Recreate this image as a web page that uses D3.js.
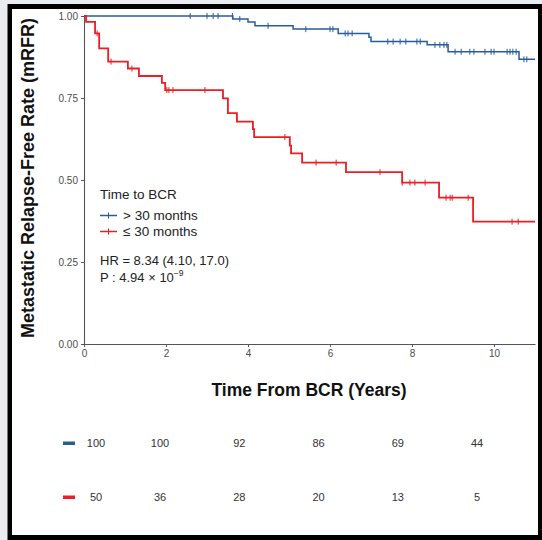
<!DOCTYPE html>
<html>
<head>
<meta charset="utf-8">
<script src="https://cdn.jsdelivr.net/npm/d3@7"></script>
<style>
  body { margin: 0; background: #e9edf1; }
  text { font-family: "Liberation Sans", Arial, sans-serif; }
</style>
</head>
<body>
<script>
// Kaplan-Meier step data (years, survival after the drop)
var blueTimes = [0, 3.63, 4.00, 4.17, 5.10, 6.20, 6.95, 7.00, 8.37, 8.88, 10.61];
var blueSurv = [1.00, 0.991, 0.982, 0.970, 0.960, 0.947, 0.935, 0.922, 0.912, 0.891, 0.868];
var blueCensor = [2.59, 3.00, 3.15, 3.27, 3.62, 3.80, 4.49, 5.41, 6.00, 6.07, 6.37, 6.44, 6.54,
    7.41, 7.54, 7.71, 7.85, 8.12, 8.20, 8.56, 8.68, 8.78, 8.85, 9.05, 9.20, 9.41, 9.51,
    9.78, 9.93, 10.00, 10.32, 10.39, 10.46, 10.54, 10.73, 10.80];

var redTimes = [0, 0.05, 0.27, 0.37, 0.59, 1.07, 1.34, 1.90, 1.98, 3.39, 3.51, 3.73, 4.12, 4.15,
    5.02, 5.05, 5.32, 6.39, 7.76, 8.66, 9.49];
var redSurv = [1.00, 0.982, 0.947, 0.901, 0.861, 0.840, 0.817, 0.796, 0.774, 0.749, 0.704, 0.678,
    0.655, 0.631, 0.605, 0.581, 0.553, 0.524, 0.492, 0.446, 0.373];
var redCensor = [0.32, 0.66, 1.17, 2.02, 2.07, 2.17, 2.95, 4.90, 5.66, 6.15, 7.22, 7.76, 7.95,
    8.07, 8.32, 8.83, 8.93, 8.98, 9.37, 10.44, 10.59];

var xTicks = [0, 2, 4, 6, 8, 10];
var yTicks = [0, 0.25, 0.5, 0.75, 1];

var riskTimes = [0, 2, 4, 6, 8, 10];
var riskBlue = [100, 100, 92, 86, 69, 44];
var riskRed = [50, 36, 28, 20, 13, 5];

var blueColor = "#2b5c9a";
var redColor = "#ee1c24";
var w = 542, h = 540;

var svg = d3.select("body").append("svg")
    .attr("width", w)
    .attr("height", h)
    .style("display", "block");

// frame
svg.append("rect").attr("x", 7.5).attr("y", 4).attr("width", w - 7.5).attr("height", h - 4).attr("fill", "#000");
svg.append("rect").attr("x", 12).attr("y", 9).attr("width", 526).attr("height", 526).attr("fill", "#fff");

var x = d3.scaleLinear().domain([0, 11]).range([84, 535]);
var y = d3.scaleLinear().domain([0, 1]).range([344, 16]);

var xAxis = svg.append("g")
    .attr("transform", "translate(0,344)")
    .call(d3.axisBottom(x).tickValues(xTicks).tickSize(3).tickSizeOuter(0));
var yAxis = svg.append("g")
    .attr("transform", "translate(84,0)")
    .call(d3.axisLeft(y).tickValues(yTicks).tickFormat(d3.format(".2f")).tickSize(3).tickSizeOuter(0));

[xAxis, yAxis].forEach(function (a) {
    a.select(".domain").attr("stroke", "#555").attr("stroke-width", 1.1);
    a.selectAll(".tick line").attr("stroke", "#555");
    a.selectAll(".tick text").attr("fill", "#4d4d4d").style("font-size", "10px")
        .style("font-family", "'Liberation Sans', Arial, sans-serif");
});

var line = d3.line()
    .x(function (d) { return x(d[0]); })
    .y(function (d) { return y(d[1]); })
    .curve(d3.curveStepAfter);

var drawCurve = function (times, surv, censor, color, width) {
    var pts = times.map(function (t, i) { return [t, surv[i]]; });
    pts.push([11, surv[surv.length - 1]]);
    svg.append("path")
        .datum(pts)
        .attr("d", line)
        .attr("fill", "none")
        .attr("stroke", color)
        .attr("stroke-width", width);

    var survAt = function (t) {
        var s = surv[0];
        for (var i = 0; i < times.length; i++) {
            if (times[i] <= t) s = surv[i];
        }
        return s;
    };
    svg.selectAll(null)
        .data(censor)
        .enter()
        .append("line")
        .attr("x1", function (d) { return x(d); })
        .attr("x2", function (d) { return x(d); })
        .attr("y1", function (d) { return y(survAt(d)) - 3; })
        .attr("y2", function (d) { return y(survAt(d)) + 3; })
        .attr("stroke", color)
        .attr("stroke-width", 1);
};

drawCurve(blueTimes, blueSurv, blueCensor, blueColor, 1.5);
drawCurve(redTimes, redSurv, redCensor, redColor, 1.8);

// axis titles
svg.append("text")
    .attr("transform", "translate(34,178) rotate(-90)")
    .attr("text-anchor", "middle")
    .style("font-size", "18px")
    .style("font-weight", "bold")
    .attr("fill", "#111")
    .text("Metastatic Relapse-Free Rate (mRFR)");

svg.append("text")
    .attr("x", 309)
    .attr("y", 396)
    .attr("text-anchor", "middle")
    .style("font-size", "17.5px")
    .style("font-weight", "bold")
    .attr("fill", "#111")
    .text("Time From BCR (Years)");

// legend
var legend = svg.append("g");
legend.append("text").attr("x", 100).attr("y", 199).style("font-size", "13.5px").attr("fill", "#222").text("Time to BCR");
var items = [["> 30 months", blueColor, 220], ["\u2264 30 months", redColor, 236]];
items.forEach(function (it) {
    var yy = it[2] - 4.5;
    legend.append("line").attr("x1", 100).attr("x2", 117).attr("y1", yy).attr("y2", yy)
        .attr("stroke", it[1]).attr("stroke-width", 1.5);
    legend.append("line").attr("x1", 108.5).attr("x2", 108.5).attr("y1", yy - 3).attr("y2", yy + 3)
        .attr("stroke", it[1]).attr("stroke-width", 1);
    legend.append("text").attr("x", 123).attr("y", it[2]).style("font-size", "13.5px").attr("fill", "#222").text(it[0]);
});
legend.append("text").attr("x", 100).attr("y", 265).style("font-size", "13px").attr("fill", "#222")
    .text("HR = 8.34 (4.10, 17.0)");
var p = legend.append("text").attr("x", 100).attr("y", 282).style("font-size", "13px").attr("fill", "#222");
p.append("tspan").text("P : 4.94 \u00d7 10");
p.append("tspan").attr("dy", -6).style("font-size", "8.5px").text("\u22129");

// risk table (first column sits a bit apart from the rest)
var rx = d3.scaleLinear().domain([0, 2, 10]).range([96, 160, 477]);
var rows = [[riskBlue, blueColor, 443], [riskRed, redColor, 497]];
rows.forEach(function (r) {
    svg.append("rect").attr("x", 63).attr("y", r[2] - 1.5).attr("width", 12).attr("height", 3.5).attr("fill", r[1]);
    svg.selectAll(null)
        .data(r[0])
        .enter()
        .append("text")
        .attr("x", function (d, i) { return rx(riskTimes[i]); })
        .attr("y", r[2] + 4)
        .attr("text-anchor", "middle")
        .style("font-size", "11px")
        .attr("fill", "#333")
        .text(function (d) { return d; });
});
</script>
</body>
</html>
